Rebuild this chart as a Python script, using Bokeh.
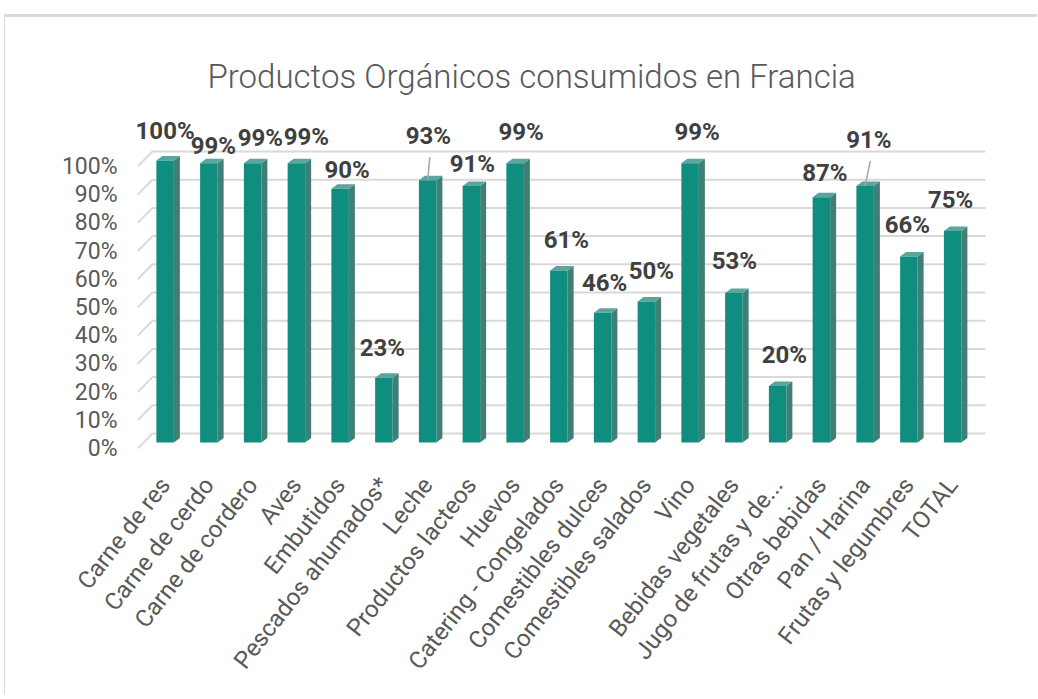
import numpy as np
from bokeh.plotting import figure
from bokeh.models import (ColumnDataSource, Range1d, LinearAxis, FixedTicker,
                          PrintfTickFormatter, LabelSet)
from bokeh.core.properties import value
from bokeh.embed import file_html
from bokeh.resources import INLINE

# ---------------- data ----------------
title_text = "Productos Orgánicos consumidos en Francia"
categories = ["Carne de res", "Carne de cerdo", "Carne de cordero", "Aves", "Embutidos",
              "Pescados ahumados*", "Leche", "Productos lacteos", "Huevos",
              "Catering - Congelados", "Comestibles dulces", "Comestibles salados", "Vino",
              "Bebidas vegetales", "Jugo de frutas y de...", "Otras bebidas", "Pan / Harina",
              "Frutas y legumbres", "TOTAL"]
values = [100, 99, 99, 99, 90, 23, 93, 91, 99, 61, 46, 50, 99, 53, 20, 87, 91, 66, 75]
y_ticks = [0, 10, 20, 30, 40, 50, 60, 70, 80, 90, 100]

# ---------------- styling (label placement in px) ----------------
label_dx = [0, 4.5, 7.7, 10, 7, -1.5, 0.7, 1, 6, 7.5, 2, 5, 7, 0.5, 6.7, 3.5, 3.7, -1.5, -2]
label_up = [30, 17, 25, 26, 19, 30, 44, 22, 31, 30, 30, 31, 31, 32, 31.6, 24, 46, 31, 31]
leader_idx = [6, 16]

W, H = 1033, 680
ML, MR, MT, MB = 129, 48, 95, 247
fw, fh = W - ML - MR, H - MT - MB
PX_X = 43.75
PX_Y = 2.82
x0 = -0.7
x1 = x0 + fw / PX_X
y0 = -8 / PX_Y
y1 = y0 + fh / PX_Y
FRONT = 2.1      # axis (front plane) shift, data units
BACK = 3.2       # back wall shift
BACK_X0, FRONT_X0, BACK_X1 = -0.29, -0.624, 18.75

GREY = "#595959"
FACE = "#0F8E7F"
SIDE = "#3F7F75"
TOP = "#5BA59C"
GRID = "#D9D9D9"
FONT = "Roboto"

p = figure(width=W, height=H, x_range=Range1d(x0, x1), y_range=Range1d(y0, y1),
           output_backend="svg", toolbar_location=None,
           x_axis_location=None, y_axis_location=None,
           min_border_left=ML, min_border_right=MR, min_border_top=MT, min_border_bottom=MB)
p.grid.visible = False
p.outline_line_color = None
p.background_fill_color = "white"
p.border_fill_color = "white"
p.extra_y_ranges = {"front": Range1d(y0 + FRONT, y1 + FRONT)}
p.styles = {"margin-top": "14px", "margin-left": "4px",
            "border-top": "3px solid #DADADA", "border-left": "1px solid #DADADA"}

# title
p.title.text = title_text
p.title.align = "left"
p.title.offset = 73
p.title.standoff = 33
p.title.text_font = "Roboto Light, Roboto"
p.title.text_font_size = "33px"
p.title.text_font_style = "normal"
p.title.text_color = GREY

# gridlines (back wall + left stubs)
gv = np.array(y_ticks, dtype=float)
p.segment(x0=[BACK_X0] * len(gv), y0=gv + BACK, x1=[BACK_X1] * len(gv), y1=gv + BACK,
          line_color=GRID, line_width=2)
p.segment(x0=[FRONT_X0] * len(gv), y0=gv - FRONT, x1=[BACK_X0] * len(gv), y1=gv + BACK,
          line_color=GRID, line_width=2)

# bars (3D look)
idx = np.arange(len(categories))
v = np.array(values, dtype=float)
hw = 0.2
dxs, dys = 6 / PX_X, 4.5 / PX_Y
side_xs = [[i + hw, i + hw + dxs, i + hw + dxs, i + hw] for i in idx]
side_ys = [[0, dys, val + dys, val] for val in v]
top_xs = [[i - hw, i - hw + dxs, i + hw + dxs, i + hw] for i in idx]
top_ys = [[val, val + dys, val + dys, val] for val in v]
p.patches(side_xs, side_ys, fill_color=SIDE, line_color=None)
p.patches(top_xs, top_ys, fill_color=TOP, line_color=None)
p.vbar(x=idx, top=v, bottom=0, width=2 * hw, fill_color=FACE, line_color=None)

# leader lines
lx0 = [idx[k] for k in leader_idx]
ly0 = [v[k] for k in leader_idx]
lx1 = [idx[k] + (label_dx[k] + 1.5) / PX_X for k in leader_idx]
ly1 = [v[k] + (label_up[k] - 21) / PX_Y for k in leader_idx]
p.segment(x0=lx0, y0=ly0, x1=lx1, y1=ly1, line_color="#A6A6A6", line_width=1.5)

# data labels
src = ColumnDataSource(dict(x=idx, y=v, txt=[f"{int(a)}%" for a in values],
                            dx=label_dx, dy=label_up))
labels = LabelSet(x="x", y="y", text="txt", source=src, x_offset="dx", y_offset="dy",
                  text_align="center", text_baseline="middle",
                  text_font=value(FONT), text_font_style="bold", text_font_size="24px",
                  text_color="#404040")
p.add_layout(labels)

# axes
yax = LinearAxis(y_range_name="front", ticker=FixedTicker(ticks=y_ticks),
                 formatter=PrintfTickFormatter(format="%d%%"))
yax.axis_line_color = None
yax.major_tick_line_color = None
yax.minor_tick_line_color = None
yax.major_tick_out = 0
yax.major_tick_in = 0
yax.major_label_standoff = 17
yax.major_label_text_font = FONT
yax.major_label_text_font_size = "23px"
yax.major_label_text_color = GREY
p.add_layout(yax, "left")

xax = LinearAxis(ticker=FixedTicker(ticks=list(idx)),
                 major_label_overrides={int(i): c for i, c in zip(idx, categories)})
xax.axis_line_color = None
xax.major_tick_line_color = None
xax.minor_tick_line_color = None
xax.major_tick_out = 0
xax.major_tick_in = 0
xax.major_label_standoff = 30
xax.major_label_orientation = 0.907
xax.major_label_text_font = FONT
xax.major_label_text_font_size = "24px"
xax.major_label_text_color = GREY
p.add_layout(xax, "below")

open("out.html", "w").write(file_html(p, INLINE))
